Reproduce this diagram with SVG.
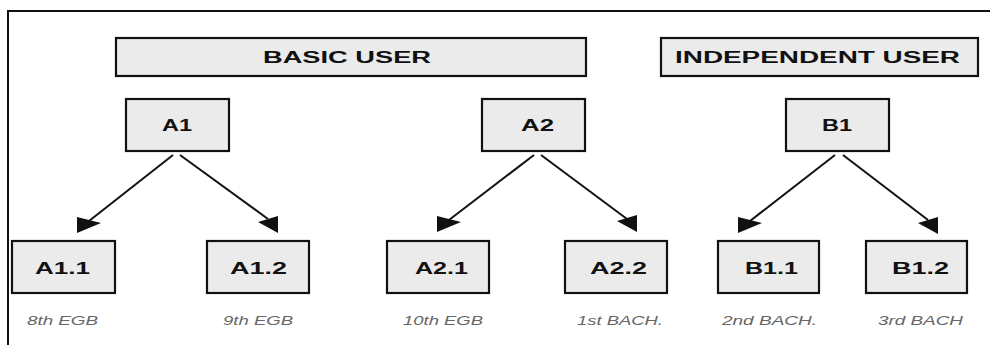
<svg xmlns="http://www.w3.org/2000/svg" xmlns:xlink="http://www.w3.org/1999/xlink" width="990" height="345" viewBox="0 0 990 345">
  <style>
    .box { fill: #ebebeb; stroke: #111; stroke-width: 2.2; }
    .lbl { font-family: "Liberation Sans", Arial, sans-serif; font-weight: bold; font-size: 16px; fill: #111; }
    .cap { font-family: "Liberation Sans", Arial, sans-serif; font-style: italic; font-size: 12.5px; fill: #666; }
    .edge { stroke: #111; stroke-width: 2; fill: none; }
    .head { fill: #111; stroke: none; }
    .frame { stroke: #111; stroke-width: 2; fill: none; }
  </style>
  <defs>
    <!-- arrowheads, tip at the origin -->
    <polygon id="headL" class="head" points="0,-16 24,-10 0,0"/>
    <polygon id="headR" class="head" points="-20,-11 0,-17 0,0"/>
  </defs>
  <rect width="990" height="345" fill="#fff"/>
  <polyline class="frame" points="8,345 8,11 990,11"/>

  <g id="basic-user">
    <rect class="box" x="116" y="38" width="470" height="38"/>
    <text class="lbl" x="263" y="63" textLength="168" lengthAdjust="spacingAndGlyphs">BASIC USER</text>
  </g>
  <g id="independent-user">
    <rect class="box" x="661" y="38" width="317" height="38"/>
    <text class="lbl" x="675" y="63" textLength="285" lengthAdjust="spacingAndGlyphs">INDEPENDENT USER</text>
  </g>

  <g id="A1">
    <rect class="box" x="126" y="99" width="103" height="52"/>
    <text class="lbl" x="162" y="130.5" textLength="30" lengthAdjust="spacingAndGlyphs">A1</text>
  </g>
  <g id="A2">
    <rect class="box" x="482" y="99" width="103" height="52"/>
    <text class="lbl" x="521" y="130.5" textLength="33" lengthAdjust="spacingAndGlyphs">A2</text>
  </g>
  <g id="B1">
    <rect class="box" x="786" y="99" width="103" height="52"/>
    <text class="lbl" x="822" y="130.5" textLength="30" lengthAdjust="spacingAndGlyphs">B1</text>
  </g>

  <g id="A1.1">
    <rect class="box" x="12" y="241" width="103" height="52"/>
    <text class="lbl" x="35" y="273.5" textLength="55" lengthAdjust="spacingAndGlyphs">A1.1</text>
    <text class="cap" x="27" y="325" textLength="71" lengthAdjust="spacingAndGlyphs">8th EGB</text>
  </g>
  <g id="A1.2">
    <rect class="box" x="207" y="241" width="102" height="52"/>
    <text class="lbl" x="230" y="273.5" textLength="57" lengthAdjust="spacingAndGlyphs">A1.2</text>
    <text class="cap" x="223" y="325" textLength="70" lengthAdjust="spacingAndGlyphs">9th EGB</text>
  </g>
  <g id="A2.1">
    <rect class="box" x="387" y="241" width="102" height="52"/>
    <text class="lbl" x="415" y="273.5" textLength="53" lengthAdjust="spacingAndGlyphs">A2.1</text>
    <text class="cap" x="403" y="325" textLength="80" lengthAdjust="spacingAndGlyphs">10th EGB</text>
  </g>
  <g id="A2.2">
    <rect class="box" x="565" y="241" width="102" height="52"/>
    <text class="lbl" x="590" y="273.5" textLength="57" lengthAdjust="spacingAndGlyphs">A2.2</text>
    <text class="cap" x="577" y="325" textLength="86" lengthAdjust="spacingAndGlyphs">1st BACH.</text>
  </g>
  <g id="B1.1">
    <rect class="box" x="718" y="241" width="101" height="52"/>
    <text class="lbl" x="745" y="273.5" textLength="53" lengthAdjust="spacingAndGlyphs">B1.1</text>
    <text class="cap" x="722" y="325" textLength="95" lengthAdjust="spacingAndGlyphs">2nd BACH.</text>
  </g>
  <g id="B1.2">
    <rect class="box" x="866" y="241" width="101" height="52"/>
    <text class="lbl" x="892" y="273.5" textLength="57" lengthAdjust="spacingAndGlyphs">B1.2</text>
    <text class="cap" x="878" y="325" textLength="85" lengthAdjust="spacingAndGlyphs">3rd BACH</text>
  </g>

  <g id="connectors">
    <line class="edge" x1="173" y1="155" x2="89" y2="221"/>
    <use xlink:href="#headL" x="77" y="233"/>
    <line class="edge" x1="180" y1="155" x2="268" y2="219"/>
    <use xlink:href="#headR" x="278" y="233"/>

    <line class="edge" x1="534" y1="155" x2="449" y2="220"/>
    <use xlink:href="#headL" x="437" y="232"/>
    <line class="edge" x1="541" y1="155" x2="627" y2="219"/>
    <use xlink:href="#headR" x="637" y="232"/>

    <line class="edge" x1="835" y1="155" x2="750" y2="221"/>
    <use xlink:href="#headL" x="738" y="233"/>
    <line class="edge" x1="843" y1="155" x2="928" y2="220"/>
    <use xlink:href="#headR" x="938" y="234"/>
  </g>
</svg>
